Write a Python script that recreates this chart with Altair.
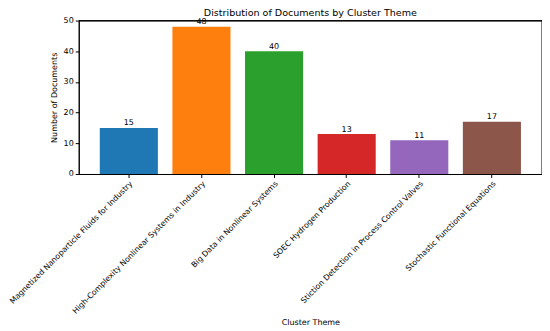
import altair as alt
import pandas as pd

themes = [
    "Magnetized Nanoparticle Fluids for Industry",
    "High-Complexity Nonlinear Systems in Industry",
    "Big Data in Nonlinear Systems",
    "SOEC Hydrogen Production",
    "Stiction Detection in Process Control Valves",
    "Stochastic Functional Equations",
]
counts = [15, 48, 40, 13, 11, 17]
colors = ["#1f77b4", "#ff7f0e", "#2ca02c", "#d62728", "#9467bd", "#8c564b"]
y_ticks = [0, 10, 20, 30, 40, 50]

df = pd.DataFrame({"theme": themes, "count": counts})

FONT = "DejaVu Sans"
W, H = 465, 154

x = alt.X(
    "theme:N",
    sort=themes,
    title="Cluster Theme",
    scale=alt.Scale(paddingInner=0.2, paddingOuter=0.29),
    axis=alt.Axis(
        labelAngle=-45,
        labelAlign="right",
        labelBaseline="top",
        labelFontSize=7.8,
        labelPadding=2,
        labelLimit=400,
        labelOverlap=False,
        tickSize=3.5,
        titleFontSize=8,
        titlePadding=4,
    ),
)
y = alt.Y(
    "count:Q",
    title="Number of Documents",
    scale=alt.Scale(domain=[0, 50], nice=False),
    axis=alt.Axis(
        values=y_ticks,
        labelOverlap=False,
        labelFontSize=8,
        tickSize=3.5,
        grid=False,
        titleFontSize=8,
        titlePadding=5,
    ),
)

base = alt.Chart(df).encode(x=x, y=y)

bars = base.mark_bar().encode(
    color=alt.Color("theme:N", sort=themes, scale=alt.Scale(domain=themes, range=colors), legend=None),
)
labels = base.mark_text(baseline="bottom", dy=-0.5, fontSize=8, font=FONT, color="black").encode(
    text="count:Q",
)

one = alt.Chart(pd.DataFrame({"k": [0]}))
top_rule = one.mark_rule(color="black", strokeWidth=1).encode(
    x=alt.value(0), x2=alt.value(W), y=alt.value(0)
)
right_rule = one.mark_rule(color="black", strokeWidth=1).encode(
    x=alt.value(W), y=alt.value(0), y2=alt.value(H)
)

chart = (
    alt.layer(bars, labels, top_rule, right_rule)
    .properties(
        width=W,
        height=H,
        title=alt.TitleParams("Distribution of Documents by Cluster Theme", fontSize=9.6, font=FONT, fontWeight="normal", offset=-1),
        autosize=alt.AutoSizeParams(type="none"),
        padding={"left": 71, "top": 12, "right": 0, "bottom": 165},
    )
    .configure(font=FONT)
    .configure_axis(
        domainColor="black",
        tickColor="black",
        labelColor="black",
        titleColor="black",
        labelFont=FONT,
        titleFont=FONT,
        titleFontWeight="normal",
    )
    .configure_view(stroke="black", strokeWidth=1, strokeOpacity=1)
)

chart.save("out.html", embed_options={"renderer": "svg", "actions": False})
